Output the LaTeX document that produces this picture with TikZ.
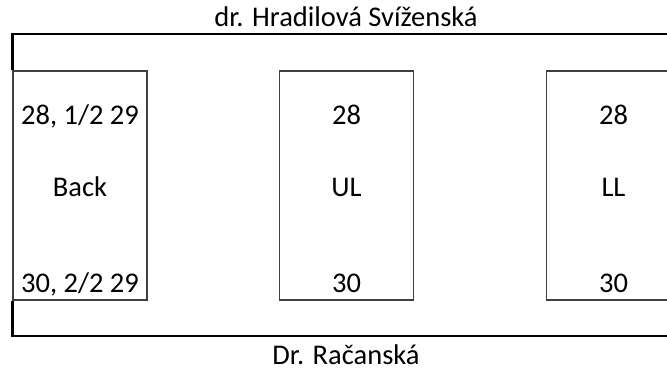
\documentclass[tikz,border=0pt]{standalone}
\usepackage{fontspec}
\setmainfont{Carlito}
\usepackage{tikz}
\usetikzlibrary{positioning}

\begin{document}
\begin{tikzpicture}[x=1pt, y=-1pt,
    every node/.style={font=\fontsize{28.5}{34}\selectfont, inner sep=0pt},
    room/.style={rectangle, draw=black!75, line width=1.3pt, minimum width=134pt, minimum height=229pt},
    tag/.style={anchor=base},
    wall/.style={line width=2.6pt, black}]

    \useasboundingbox (0,0) rectangle (667,371);
    \clip (0,0) rectangle (667,371);

    % rooms
    \node [room] (back) at (80,185.5) {};
    \node [room] (ul) at (346.5,185.5) {};
    \node [room] (ll) at (613.5,185.5) {};

    % texts in the rooms
    \node [tag] (backtop) at (80,125) {28, 1/2 29};
    \node [tag] (backmid) at (80,197) {Back};
    \node [tag] (backbot) at (80,293) {30, 2/2 29};
    \node [tag] (ultop) at (346.5,125) {28};
    \node [tag] (ulmid) at (346.5,197) {UL};
    \node [tag] (ulbot) at (346.5,293) {30};
    \node [tag] (lltop) at (613.5,125) {28};
    \node [tag] (llmid) at (613.5,197) {LL};
    \node [tag] (llbot) at (613.5,293) {30};

    % corridor walls
    \coordinate (topend) at (690,34);
    \coordinate (botend) at (690,336);
    \draw [wall] (back.north west) |- (topend);
    \draw [wall] (back.south west) |- (botend);

    % names
    \node [tag] (upper) at (346,27) {dr. Hradilová Svíženská};
    \node [tag] (lower) at (346,365) {Dr. Račanská};
\end{tikzpicture}
\end{document}
